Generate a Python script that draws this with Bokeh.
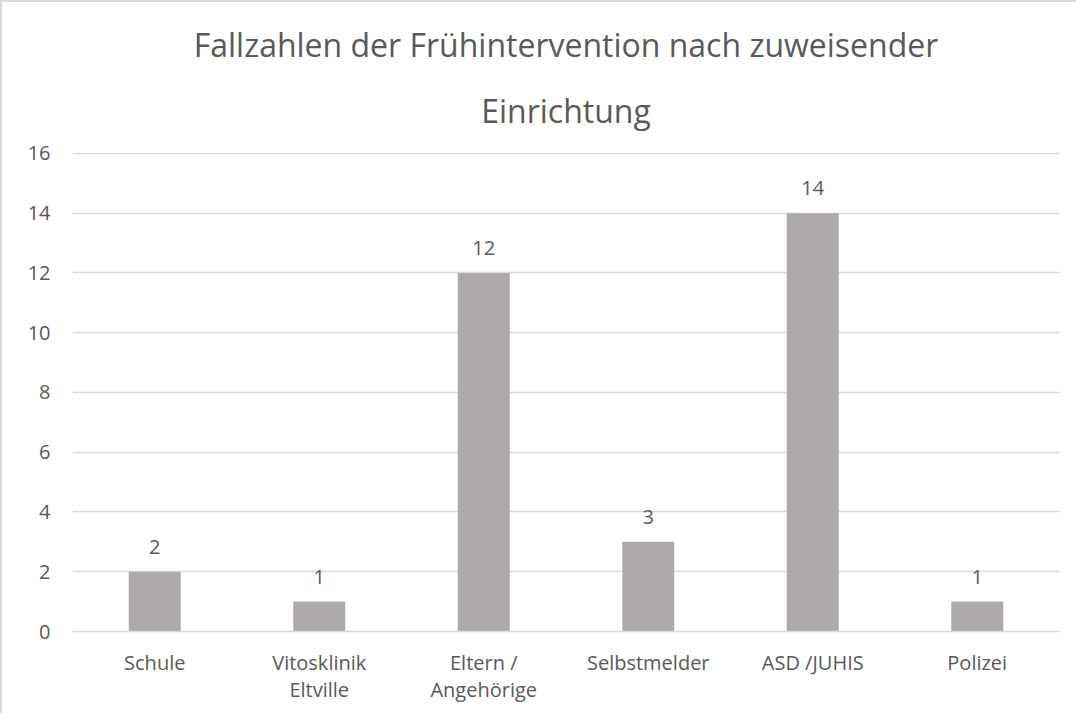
from bokeh.plotting import figure
from bokeh.models import FactorRange, Range1d, FixedTicker, Title
from bokeh.core.properties import value
from bokeh.embed import file_html
from bokeh.resources import INLINE

categories = ["Schule", "Vitosklinik\nEltville", "Eltern /\nAngehörige", "Selbstmelder", "ASD /JUHIS", "Polizei"]
counts = [2, 1, 12, 3, 14, 1]
y_ticks = [0, 2, 4, 6, 8, 10, 12, 14, 16]
title_lines = ["Fallzahlen der Frühintervention nach zuweisender", "Einrichtung"]

FONT = "Open Sans"
TXT = "#595959"

p = figure(x_range=FactorRange(*categories, range_padding=0), y_range=Range1d(0, 16.03),
           width=1076, height=713, output_backend="svg", toolbar_location=None,
           min_border_left=70, min_border_right=19, min_border_top=150, min_border_bottom=84)
p.title = None
t2 = Title(text=title_lines[1], align="center", text_font=FONT, text_font_size="32px",
           text_font_style="normal", text_color=TXT, standoff=42)
t1 = Title(text=title_lines[0], align="center", text_font=FONT, text_font_size="32px",
           text_font_style="normal", text_color=TXT, standoff=0)
p.add_layout(t2, "above")
p.add_layout(t1, "above")
p.styles = {"border-top": "2px solid #D9D9D9", "border-left": "2px solid #D9D9D9", "box-sizing": "border-box"}

p.vbar(x=categories, top=counts, width=0.316, color="#AEAAAA", line_color=None)
p.text(x=categories, y=counts, text=[str(c) for c in counts], y_offset=-25,
       text_align="center", text_baseline="middle", text_font=value(FONT),
       text_font_size="20px", text_color=TXT)

p.outline_line_color = None
p.xgrid.grid_line_color = None
p.ygrid.grid_line_color = "#D9D9D9"
p.ygrid.grid_line_width = 1.5
p.yaxis.ticker = FixedTicker(ticks=y_ticks)
for ax in (p.xaxis, p.yaxis):
    ax.axis_line_color = None
    ax.major_tick_line_color = None
    ax.minor_tick_line_color = None
    ax.major_label_text_font = FONT
    ax.major_label_text_font_size = "20px"
    ax.major_label_text_color = TXT
p.xaxis.major_label_text_line_height = 1.0
p.xaxis.major_label_standoff = 11
p.yaxis.major_label_standoff = 16
p.xaxis.axis_line_color = "#D9D9D9"
p.xaxis.axis_line_width = 1.5

open("out.html", "w").write(file_html(p, INLINE))
